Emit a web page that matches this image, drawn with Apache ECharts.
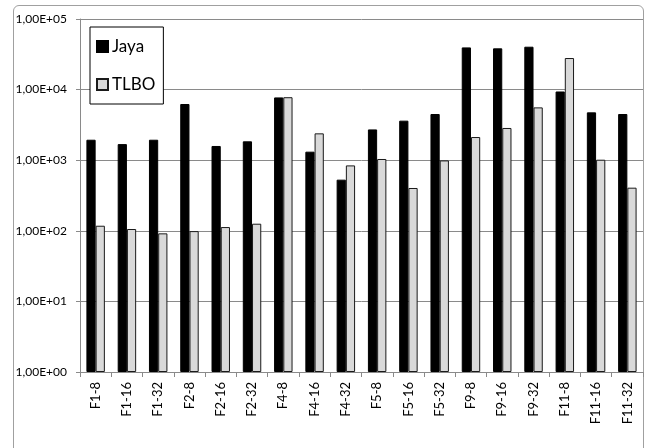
<!DOCTYPE html>
<html>
<head>
<meta charset="utf-8">
<script src="https://cdn.jsdelivr.net/npm/echarts@6/dist/echarts.min.js"></script>
<style>
  html, body { margin: 0; padding: 0; background: #fff; }
  #frame { position: absolute; left: 13px; top: 5px; width: 631px; height: 460px;
           border: 1px solid #a0a0a0; border-radius: 6px; box-sizing: border-box; }
  #chart { position: absolute; left: 0; top: 0; width: 648px; height: 448px; }
</style>
</head>
<body>
<div id="frame"></div>
<div id="chart"></div>
<script>
// Benchmark cases on the category axis
const categories = ['F1-8', 'F1-16', 'F1-32', 'F2-8', 'F2-16', 'F2-32', 'F4-8', 'F4-16', 'F4-32',
  'F5-8', 'F5-16', 'F5-32', 'F9-8', 'F9-16', 'F9-32', 'F11-8', 'F11-16', 'F11-32'];

// Values per algorithm (log scale)
const jaya = [1950, 1690, 1950, 6250, 1590, 1850, 7750, 1320, 530,
  2730, 3630, 4510, 39600, 38400, 40500, 9400, 4760, 4510];
const tlbo = [118, 106, 92, 99, 113, 126, 7800, 2400, 844,
  1040, 404, 993, 2130, 2860, 5600, 28000, 1016, 408];

// Tick labels of the value axis, indexed by power of ten
const yTickLabels = ['1,00E+00', '1,00E+01', '1,00E+02', '1,00E+03', '1,00E+04', '1,00E+05'];

const font = 'Lato, "Open Sans", sans-serif';
const chart = echarts.init(document.getElementById('chart'), null, { renderer: 'canvas' });

chart.setOption({
  animation: false,
  backgroundColor: 'transparent',
  textStyle: { fontFamily: font },
  grid: { left: 80, right: 5, top: 19, bottom: 76, containLabel: false },
  legend: {
    orient: 'vertical',
    left: 90, top: 27,
    padding: [11, 8, 11, 6],
    itemGap: 21,
    itemWidth: 11, itemHeight: 11,
    backgroundColor: '#fff',
    borderColor: '#000', borderWidth: 1,
    icon: 'rect',
    textStyle: { fontFamily: font, fontSize: 17, color: '#000', padding: [0, 0, 0, -1] },
    data: ['Jaya', 'TLBO']
  },
  xAxis: {
    type: 'category',
    data: categories,
    axisLine: { lineStyle: { color: '#8a8a8a', width: 1 } },
    axisTick: { show: true, length: 5, alignWithLabel: false, lineStyle: { color: '#8a8a8a' } },
    axisLabel: { interval: 0, rotate: 90, margin: 10, fontSize: 13, color: '#000', fontFamily: font }
  },
  yAxis: {
    type: 'log',
    logBase: 10,
    min: 1, max: 100000,
    axisLine: { show: true, lineStyle: { color: '#8a8a8a', width: 1 } },
    axisTick: { show: true, length: 4, lineStyle: { color: '#8a8a8a' } },
    splitLine: { show: true, lineStyle: { color: '#8a8a8a', width: 1 } },
    axisLabel: {
      margin: 13, fontSize: 12, color: '#000', fontFamily: font,
      formatter: v => yTickLabels[Math.round(Math.log10(v))]
    }
  },
  series: [
    {
      name: 'Jaya', type: 'bar', data: jaya,
      barGap: '0%', barCategoryGap: '41%',
      itemStyle: { color: '#000', borderColor: '#000', borderWidth: 1 }
    },
    {
      name: 'TLBO', type: 'bar', data: tlbo,
      itemStyle: { color: '#d9d9d9', borderColor: '#1a1a1a', borderWidth: 1 }
    }
  ]
});
</script>
</body>
</html>
